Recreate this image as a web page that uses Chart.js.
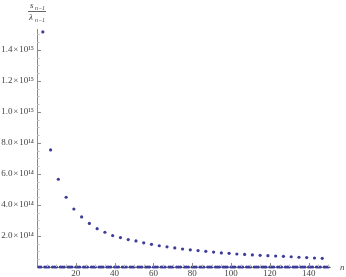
<!DOCTYPE html>
<html>
<head>
<meta charset="utf-8">
<script src="https://cdn.jsdelivr.net/npm/chart.js@4"></script>
<style>
  body { margin: 0; background: #fff; }
  #wrap { width: 346px; height: 277px; }
</style>
</head>
<body>
<div id="wrap"><canvas id="ratioChart"></canvas></div>
<script>
// n values with a visible ratio
const nLarge = [3, 7, 11, 15, 19, 23, 27, 31, 35, 39, 43, 47, 51, 55, 59, 63, 67, 71, 75,
  79, 83, 87, 91, 95, 99, 103, 107, 111, 115, 119, 123, 127, 131, 135, 139, 143, 147];
// s_{n-1}/lambda_{n-1} in units of 1e15
const ratioLarge = [1.516, 0.755, 0.566, 0.450, 0.374, 0.323, 0.281, 0.247, 0.224, 0.203,
  0.190, 0.177, 0.168, 0.156, 0.146, 0.137, 0.130, 0.123, 0.116, 0.111, 0.106, 0.101,
  0.096, 0.091, 0.088, 0.084, 0.081, 0.078, 0.075, 0.073, 0.071, 0.069, 0.066, 0.063,
  0.061, 0.058, 0.056];
// remaining n, whose ratio sits on the axis
const nSmall = [1, 2, 4, 5, 6, 8, 9, 10, 12, 13, 14, 16, 17, 18, 20, 21, 22, 24, 25, 26,
  28, 29, 30, 32, 33, 34, 36, 37, 38, 40, 41, 42, 44, 45, 46, 48, 49, 50, 52, 53, 54, 56,
  57, 58, 60, 61, 62, 64, 65, 66, 68, 69, 70, 72, 73, 74, 76, 77, 78, 80, 81, 82, 84, 85,
  86, 88, 89, 90, 92, 93, 94, 96, 97, 98, 100, 101, 102, 104, 105, 106, 108, 109, 110, 112,
  113, 114, 116, 117, 118, 120, 121, 122, 124, 125, 126, 128, 129, 130, 132, 133, 134, 136,
  137, 138, 140, 141, 142, 144, 145, 146, 148, 149, 150];
const ratioSmall = nSmall.map(() => 0);
const xTicks = [20, 40, 60, 80, 100, 120, 140];
const yTicks = [0.2, 0.4, 0.6, 0.8, 1.0, 1.2, 1.4];

const SCALE = 1e15;
const pointColor = '#3d3d99';
const axisColor = '#8a8a8a';
const textColor = '#444';
const serif = '"Liberation Serif", "DejaVu Serif", serif';
const sup = { '0': '⁰', '1': '¹', '2': '²', '3': '³', '4': '⁴', '5': '⁵', '6': '⁶', '7': '⁷', '8': '⁸', '9': '⁹' };

function yLabel(v) {
  const exp = v >= 1 ? 15 : 14;
  const mant = v / Math.pow(10, exp - 15);
  return mant.toFixed(1) + '\u200a×\u200a10' + String(exp).split('').map(c => sup[c]).join('');
}

// Mathematica-style inward ticks, axis labels
const frameDeco = {
  id: 'frameDeco',
  afterDraw(chart) {
    const { ctx, scales: { x, y } } = chart;
    const yTop = y.max / SCALE;
    ctx.save();
    ctx.lineWidth = 1;
    // y ticks (inward)
    for (let k = 1; k * 0.05 <= yTop + 1e-9 && k < 100; k++) {
      const v = k * 0.05 * SCALE;
      const major = k % 4 === 0;
      const py = Math.round(y.getPixelForValue(v)) + 0.5;
      ctx.strokeStyle = major ? axisColor : '#bbb';
      ctx.beginPath();
      ctx.moveTo(x.left, py);
      ctx.lineTo(x.left + (major ? 4 : 2.5), py);
      ctx.stroke();
    }
    // x ticks (inward)
    for (let k = 1; k * 5 <= x.max && k < 100; k++) {
      const major = k % 4 === 0;
      const px = Math.round(x.getPixelForValue(k * 5)) + 0.5;
      ctx.strokeStyle = major ? axisColor : '#bbb';
      ctx.beginPath();
      ctx.moveTo(px, y.bottom);
      ctx.lineTo(px, y.bottom - (major ? 4 : 2.5));
      ctx.stroke();
    }
    // x axis label
    ctx.fillStyle = textColor;
    ctx.font = 'italic 9px ' + serif;
    ctx.textAlign = 'left';
    ctx.textBaseline = 'middle';
    ctx.fillText('n', 340, y.bottom + 1);
    // y axis label: s_{n-1} / λ_{n-1}
    ctx.textBaseline = 'alphabetic';
    ctx.font = 'italic 9px ' + serif;
    ctx.fillText('s', 30, 8);
    ctx.fillText('λ', 29, 20);
    ctx.font = 'italic 6px ' + serif;
    ctx.fillText('n−1', 35, 10);
    ctx.fillText('n−1', 35, 22);
    ctx.strokeStyle = '#666';
    ctx.beginPath();
    ctx.moveTo(28, 11.5);
    ctx.lineTo(46, 11.5);
    ctx.stroke();
    ctx.restore();
  }
};

const ctxRatio = document.getElementById('ratioChart').getContext('2d');
new Chart(ctxRatio, {
  type: 'scatter',
  data: {
    datasets: [{
      label: 'large',
      data: nLarge.map((n, i) => ({ x: n, y: ratioLarge[i] * SCALE })),
      backgroundColor: pointColor,
      borderColor: pointColor,
      pointRadius: 1.6,
      borderWidth: 0,
      clip: false
    }, {
      label: 'small',
      data: nSmall.map((n, i) => ({ x: n, y: ratioSmall[i] * SCALE })),
      backgroundColor: pointColor,
      borderColor: pointColor,
      pointRadius: 1.6,
      borderWidth: 0,
      clip: false
    }]
  },
  options: {
    responsive: true,
    maintainAspectRatio: false,
    animation: false,
    layout: { padding: { top: 29, right: 16, left: 0, bottom: 0 } },
    plugins: { legend: { display: false }, tooltip: { enabled: false } },
    scales: {
      x: {
        type: 'linear',
        min: 0,
        max: 151,
        afterBuildTicks: s => { s.ticks = xTicks.map(v => ({ value: v })); },
        afterFit: s => { s.height = 10; },
        grid: { display: false, drawTicks: false },
        border: { display: true, color: axisColor },
        ticks: {
          padding: 1,
          color: textColor,
          font: { family: serif, size: 9 },
          maxRotation: 0
        }
      },
      y: {
        type: 'linear',
        min: 0,
        max: 1.535 * SCALE,
        afterBuildTicks: s => { s.ticks = yTicks.map(v => ({ value: v * SCALE })); },
        afterFit: s => { s.width = 37; },
        grid: { display: false, drawTicks: false },
        border: { display: true, color: axisColor },
        ticks: {
          padding: 3,
          color: textColor,
          font: { family: serif, size: 9 },
          callback: v => yLabel(v / SCALE)
        }
      }
    }
  },
  plugins: [frameDeco]
});
</script>
</body>
</html>
